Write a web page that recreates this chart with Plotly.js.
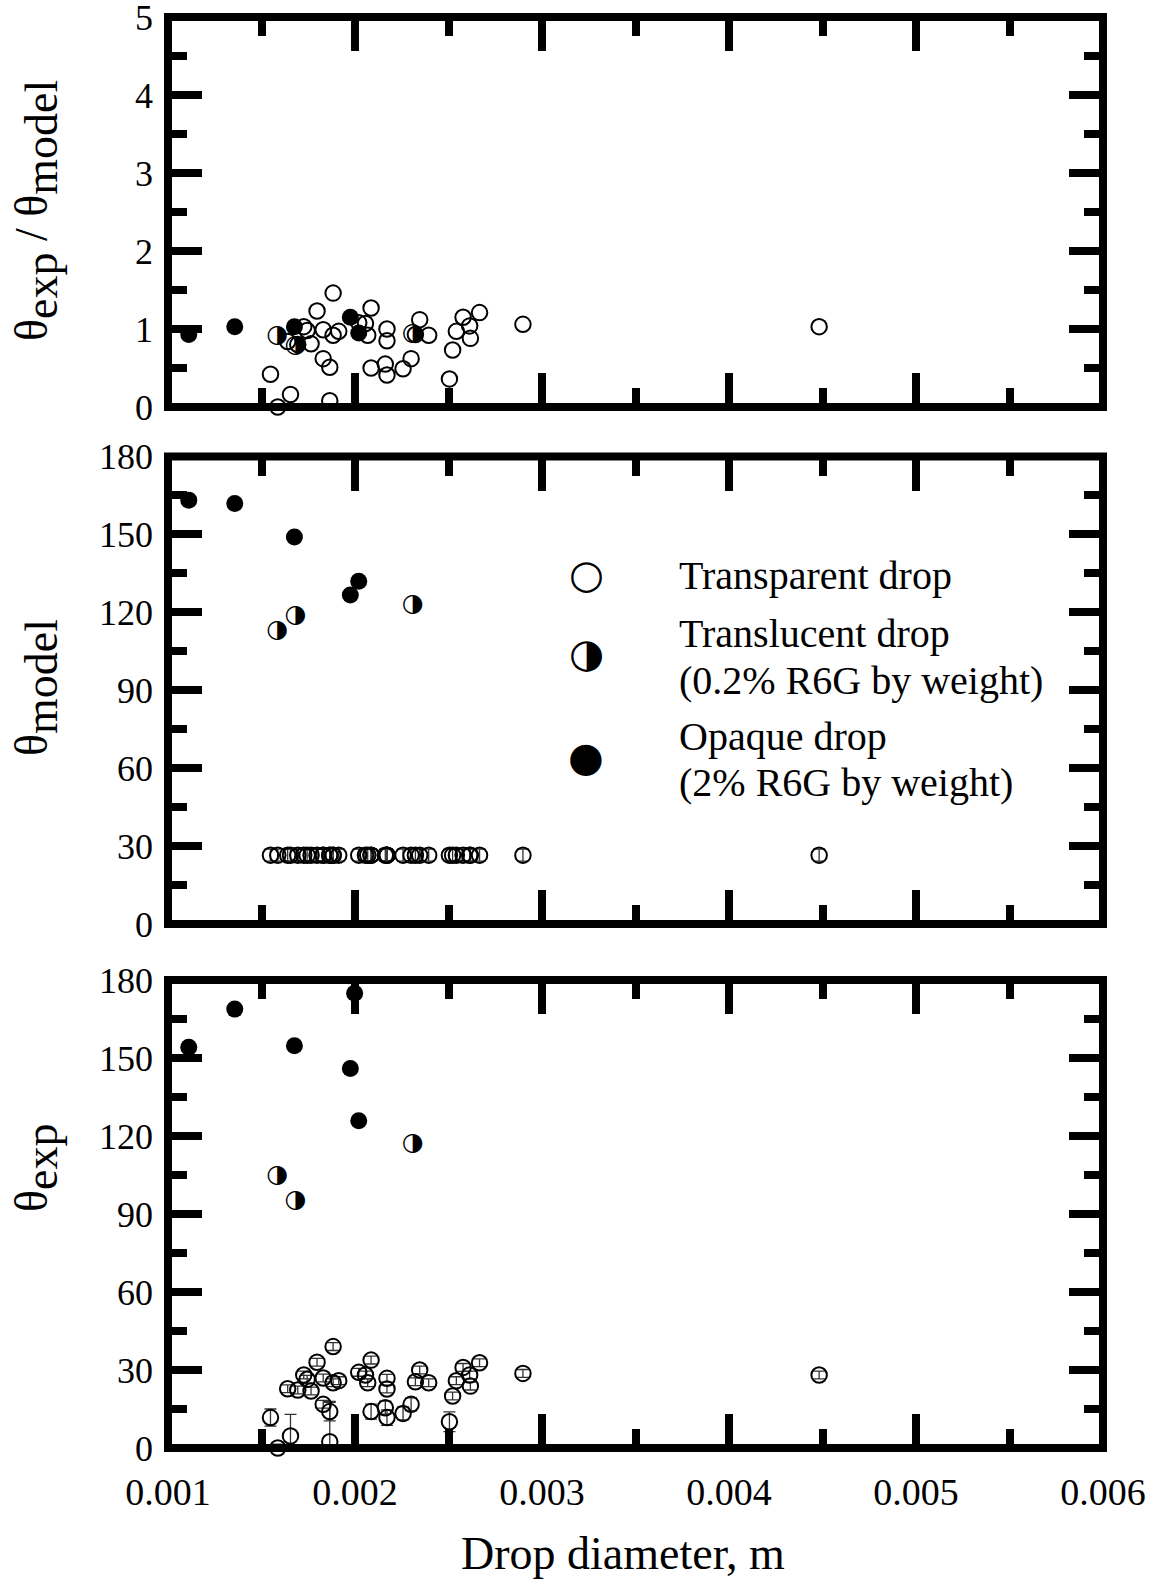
<!DOCTYPE html>
<html><head><meta charset="utf-8">
<script src="https://cdn.plot.ly/plotly-3.0.1.min.js"></script>
<style>body{margin:0;background:#fff}</style>
</head><body><div id="chart" style="width:1163px;height:1581px"></div>
<script>
// ---------- DATA ----------
// Transparent drops
const transparentDiameter = [0.001548,0.001587,0.001655,0.001640,0.001694,0.001726,0.001744,0.001765,0.001797,0.001830,
  0.001830,0.001865,0.001865,0.001883,0.001883,0.001913,0.002020,0.002056,0.002068,0.002086,
  0.002086,0.002171,0.002171,0.002162,0.002171,0.002257,0.002300,0.002323,0.002346,0.002394,
  0.002505,0.002522,0.002542,0.002578,0.002613,0.002617,0.002666,0.002898,0.004482];
const transparentExp = [11.7,0.0,4.6,22.8,22.3,28.1,26.4,21.9,33.0,26.9,
  16.8,14.0,2.4,39.0,25.1,25.9,29.1,28.1,25.1,33.8,
  14.0,26.8,22.7,15.5,11.7,13.3,16.8,25.5,30.0,25.1,
  10.1,20.0,25.9,31.0,28.1,23.8,32.8,28.7,28.1];
const transparentExpErr = [3.3,1.5,8.3,1.5,1.5,1.5,1.5,1.5,1.5,1.5,
  1.5,3.6,15.5,1.5,1.5,1.5,1.5,1.5,1.5,1.5,
  2.9,1.5,1.5,2.5,3.0,2.5,2.5,1.5,1.5,1.5,
  3.8,1.5,1.5,1.5,1.5,1.5,1.5,1.5,1.5];
const transparentModel = [26.5,26.5,26.5,26.5,26.5,26.5,26.5,26.5,26.5,26.5,
  26.5,26.5,26.5,26.5,26.5,26.5,26.5,26.5,26.5,26.5,
  26.5,26.5,26.5,26.5,26.5,26.5,26.5,26.5,26.5,26.5,
  26.5,26.5,26.5,26.5,26.5,26.5,26.5,26.5,26.5];
const transparentModelErr = [2.3,2.3,2.3,2.3,2.3,2.3,2.3,2.3,2.3,2.3,
  2.3,2.3,2.3,2.3,2.3,2.3,2.3,2.3,2.3,2.3,
  2.3,2.3,2.3,2.3,2.3,2.3,2.3,2.3,2.3,2.3,
  2.3,2.3,2.3,2.3,2.3,2.3,2.3,2.3,2.3];
const transparentRatio = [0.42,0.00,0.16,0.84,0.80,1.03,0.98,0.81,1.23,0.99,
  0.62,0.51,0.08,1.46,0.92,0.97,1.08,1.07,0.92,1.27,
  0.50,1.00,0.85,0.55,0.41,0.49,0.62,0.93,1.12,0.92,
  0.36,0.73,0.97,1.15,1.04,0.88,1.21,1.06,1.03];

// Translucent drops (0.2% R6G)
const translucentDiameter = [0.001584,0.001681,0.002309];
const translucentExp = [104.6,95.1,116.9];
const translucentModel = [112.8,118.8,123.1];
const translucentRatio = [0.91,0.79,0.94];

// Opaque drops (2% R6G)
const opaqueExpDiameter = [0.001111,0.001357,0.001676,0.001998,0.001975,0.002020];
const opaqueExp = [154.1,168.8,154.7,174.9,146.0,125.9];
const opaqueModelDiameter = [0.001111,0.001357,0.001676,0.001975,0.002020];
const opaqueModel = [163.2,161.9,149.0,126.7,132.0];
const opaqueRatio = [0.93,1.03,1.03,1.15,0.95];

// Axis ticks / labels
const xTicks = [0.001,0.002,0.003,0.004,0.005,0.006];
const xTickText = ['0.001','0.002','0.003','0.004','0.005','0.006'];
const thetaTicks = [0,30,60,90,120,150,180];
const ratioTicks = [0,1,2,3,4,5];

// ---------- STYLE ----------
const W=1163, H=1581, L=168, R=60, T=17, B=133;
const plotH = H-T-B, plotW = W-L-R;
const dom = (topPx, botPx) => [(H-B-botPx)/plotH, (H-B-topPx)/plotH];
const px = x => (x-L)/plotW;
const py = y => (H-B-y)/plotH;
const serif = 'Liberation Serif, Times New Roman, serif';
const glyphFont = 'DejaVu Sans';

const openMarker = {symbol:'circle-open', size:15.5, color:'#000', line:{width:2,color:'#000'}};
const fillMarker = {symbol:'circle', size:17, color:'#000', line:{width:0}};
const errStyle = (arr) => ({type:'data', array:arr, visible:true, color:'#333', thickness:1.3, width:6});
const halfGlyph = {family:glyphFont, size:25, color:'#000'};

const traces = [];
// bottom panel: theta exp
traces.push({x:transparentDiameter, y:transparentExp, xaxis:'x', yaxis:'y', mode:'markers', type:'scatter',
  marker:openMarker, error_y:errStyle(transparentExpErr), cliponaxis:false});
traces.push({x:opaqueExpDiameter, y:opaqueExp, xaxis:'x', yaxis:'y', mode:'markers', type:'scatter', marker:fillMarker, cliponaxis:false});
traces.push({x:translucentDiameter, y:translucentExp, xaxis:'x', yaxis:'y', mode:'text', type:'scatter',
  text:translucentDiameter.map(()=> '◑'), textposition:'middle center', textfont:halfGlyph, cliponaxis:false});
// middle panel: theta model
traces.push({x:transparentDiameter, y:transparentModel, xaxis:'x2', yaxis:'y2', mode:'markers', type:'scatter',
  marker:openMarker, error_y:errStyle(transparentModelErr), cliponaxis:false});
traces.push({x:opaqueModelDiameter, y:opaqueModel, xaxis:'x2', yaxis:'y2', mode:'markers', type:'scatter', marker:fillMarker, cliponaxis:false});
traces.push({x:translucentDiameter, y:translucentModel, xaxis:'x2', yaxis:'y2', mode:'text', type:'scatter',
  text:translucentDiameter.map(()=> '◑'), textposition:'middle center', textfont:halfGlyph, cliponaxis:false});
// top panel: ratio
traces.push({x:transparentDiameter, y:transparentRatio, xaxis:'x3', yaxis:'y3', mode:'markers', type:'scatter', marker:openMarker, cliponaxis:false});
traces.push({x:opaqueModelDiameter, y:opaqueRatio, xaxis:'x3', yaxis:'y3', mode:'markers', type:'scatter', marker:fillMarker, cliponaxis:false});
traces.push({x:translucentDiameter, y:translucentRatio, xaxis:'x3', yaxis:'y3', mode:'text', type:'scatter',
  text:translucentDiameter.map(()=> '◑'), textposition:'middle center', textfont:halfGlyph, cliponaxis:false});

const tickBase = {ticks:'inside', ticklen:34, tickwidth:8, tickcolor:'#000', mirror:'ticks', showline:false,
  showgrid:false, zeroline:false, ticklabeloverflow:'allow', tickfont:{family:serif, size:36, color:'#000'}};
function xAxis(showLabels, anchor){
  return Object.assign({}, tickBase, {range:[0.001,0.006], tickmode:'array', tickvals:xTicks, ticktext:xTickText,
    showticklabels:showLabels, anchor:anchor, tickfont:{family:serif,size:38,color:'#000'}, ticklabelstandoff:18,
    minor:{tickmode:'linear', tick0:0.0015, dtick:0.001, ticks:'inside', ticklen:19, tickwidth:8, tickcolor:'#000'}});
}
function yAxis(range, tickvals, minorTick0, minorDtick, domain, anchor){
  return Object.assign({}, tickBase, {range:range, tickmode:'array', tickvals:tickvals, domain:domain, anchor:anchor,
    ticklabelstandoff:14,
    minor:{tickmode:'linear', tick0:minorTick0, dtick:minorDtick, ticks:'inside', ticklen:19, tickwidth:8, tickcolor:'#000'}});
}

const frame = (xr, yr) => ({type:'rect', xref:xr+' domain', yref:yr+' domain', x0:0, x1:1, y0:0, y1:1,
  line:{color:'#000', width:8}, fillcolor:'rgba(0,0,0,0)', layer:'above'});

const ann = [];
const yTitle = (text, xc, yc) => ({text:text, xref:'paper', yref:'paper', x:px(xc), y:py(yc), xanchor:'center', yanchor:'middle',
  textangle:-90, showarrow:false, font:{family:serif, size:46, color:'#000'}});
const sub = s => '<sub><span style="font-size:46px">'+s+'</span></sub>';
ann.push(yTitle('θ'+sub('exp')+' / θ'+sub('model'), 36, 211));
ann.push(yTitle('θ'+sub('model'), 36, 688));
ann.push(yTitle('θ'+sub('exp'), 36, 1168));
ann.push({text:'Drop diameter, m', xref:'paper', yref:'paper', x:px(623), y:py(1553), xanchor:'center', yanchor:'middle',
  showarrow:false, font:{family:serif, size:46, color:'#000'}});
// legend (drawn as text)
const legText = (t, yc) => ({text:t, xref:'paper', yref:'paper', x:px(677), y:py(yc), xanchor:'left', yanchor:'middle',
  showarrow:false, font:{family:serif, size:40, color:'#000'}});
const legGlyph = (g, yc, sz) => ({text:g, xref:'paper', yref:'paper', x:px(586), y:py(yc), xanchor:'center', yanchor:'middle',
  showarrow:false, font:{family:glyphFont, size:sz, color:'#000'}});
ann.push(legGlyph('○', 574, 40));
ann.push(legText('Transparent drop', 575));
ann.push(legGlyph('◑', 653, 40));
ann.push(legText('Translucent drop', 633));
ann.push(legText('(0.2% R6G by weight)', 680));
ann.push(legGlyph('●', 757, 41));
ann.push(legText('Opaque drop', 736));
ann.push(legText('(2% R6G by weight)', 783));

const layout = {
  width:W, height:H, margin:{l:L, r:R, t:T, b:B}, paper_bgcolor:'#fff', plot_bgcolor:'#fff', showlegend:false,
  xaxis: xAxis(true, 'y'),
  xaxis2: Object.assign(xAxis(false, 'y2'), {matches:'x'}),
  xaxis3: Object.assign(xAxis(false, 'y3'), {matches:'x'}),
  yaxis: yAxis([0,180], thetaTicks, 15, 30, dom(980,1448), 'x'),
  yaxis2: yAxis([0,180], thetaTicks, 15, 30, dom(456.5,924), 'x2'),
  yaxis3: yAxis([0,5], ratioTicks, 0.5, 1, dom(17,407), 'x3'),
  shapes:[frame('x','y'), frame('x2','y2'), frame('x3','y3')],
  annotations: ann
};
Plotly.newPlot('chart', traces, layout, {staticPlot:true, displayModeBar:false});
</script></body></html>
